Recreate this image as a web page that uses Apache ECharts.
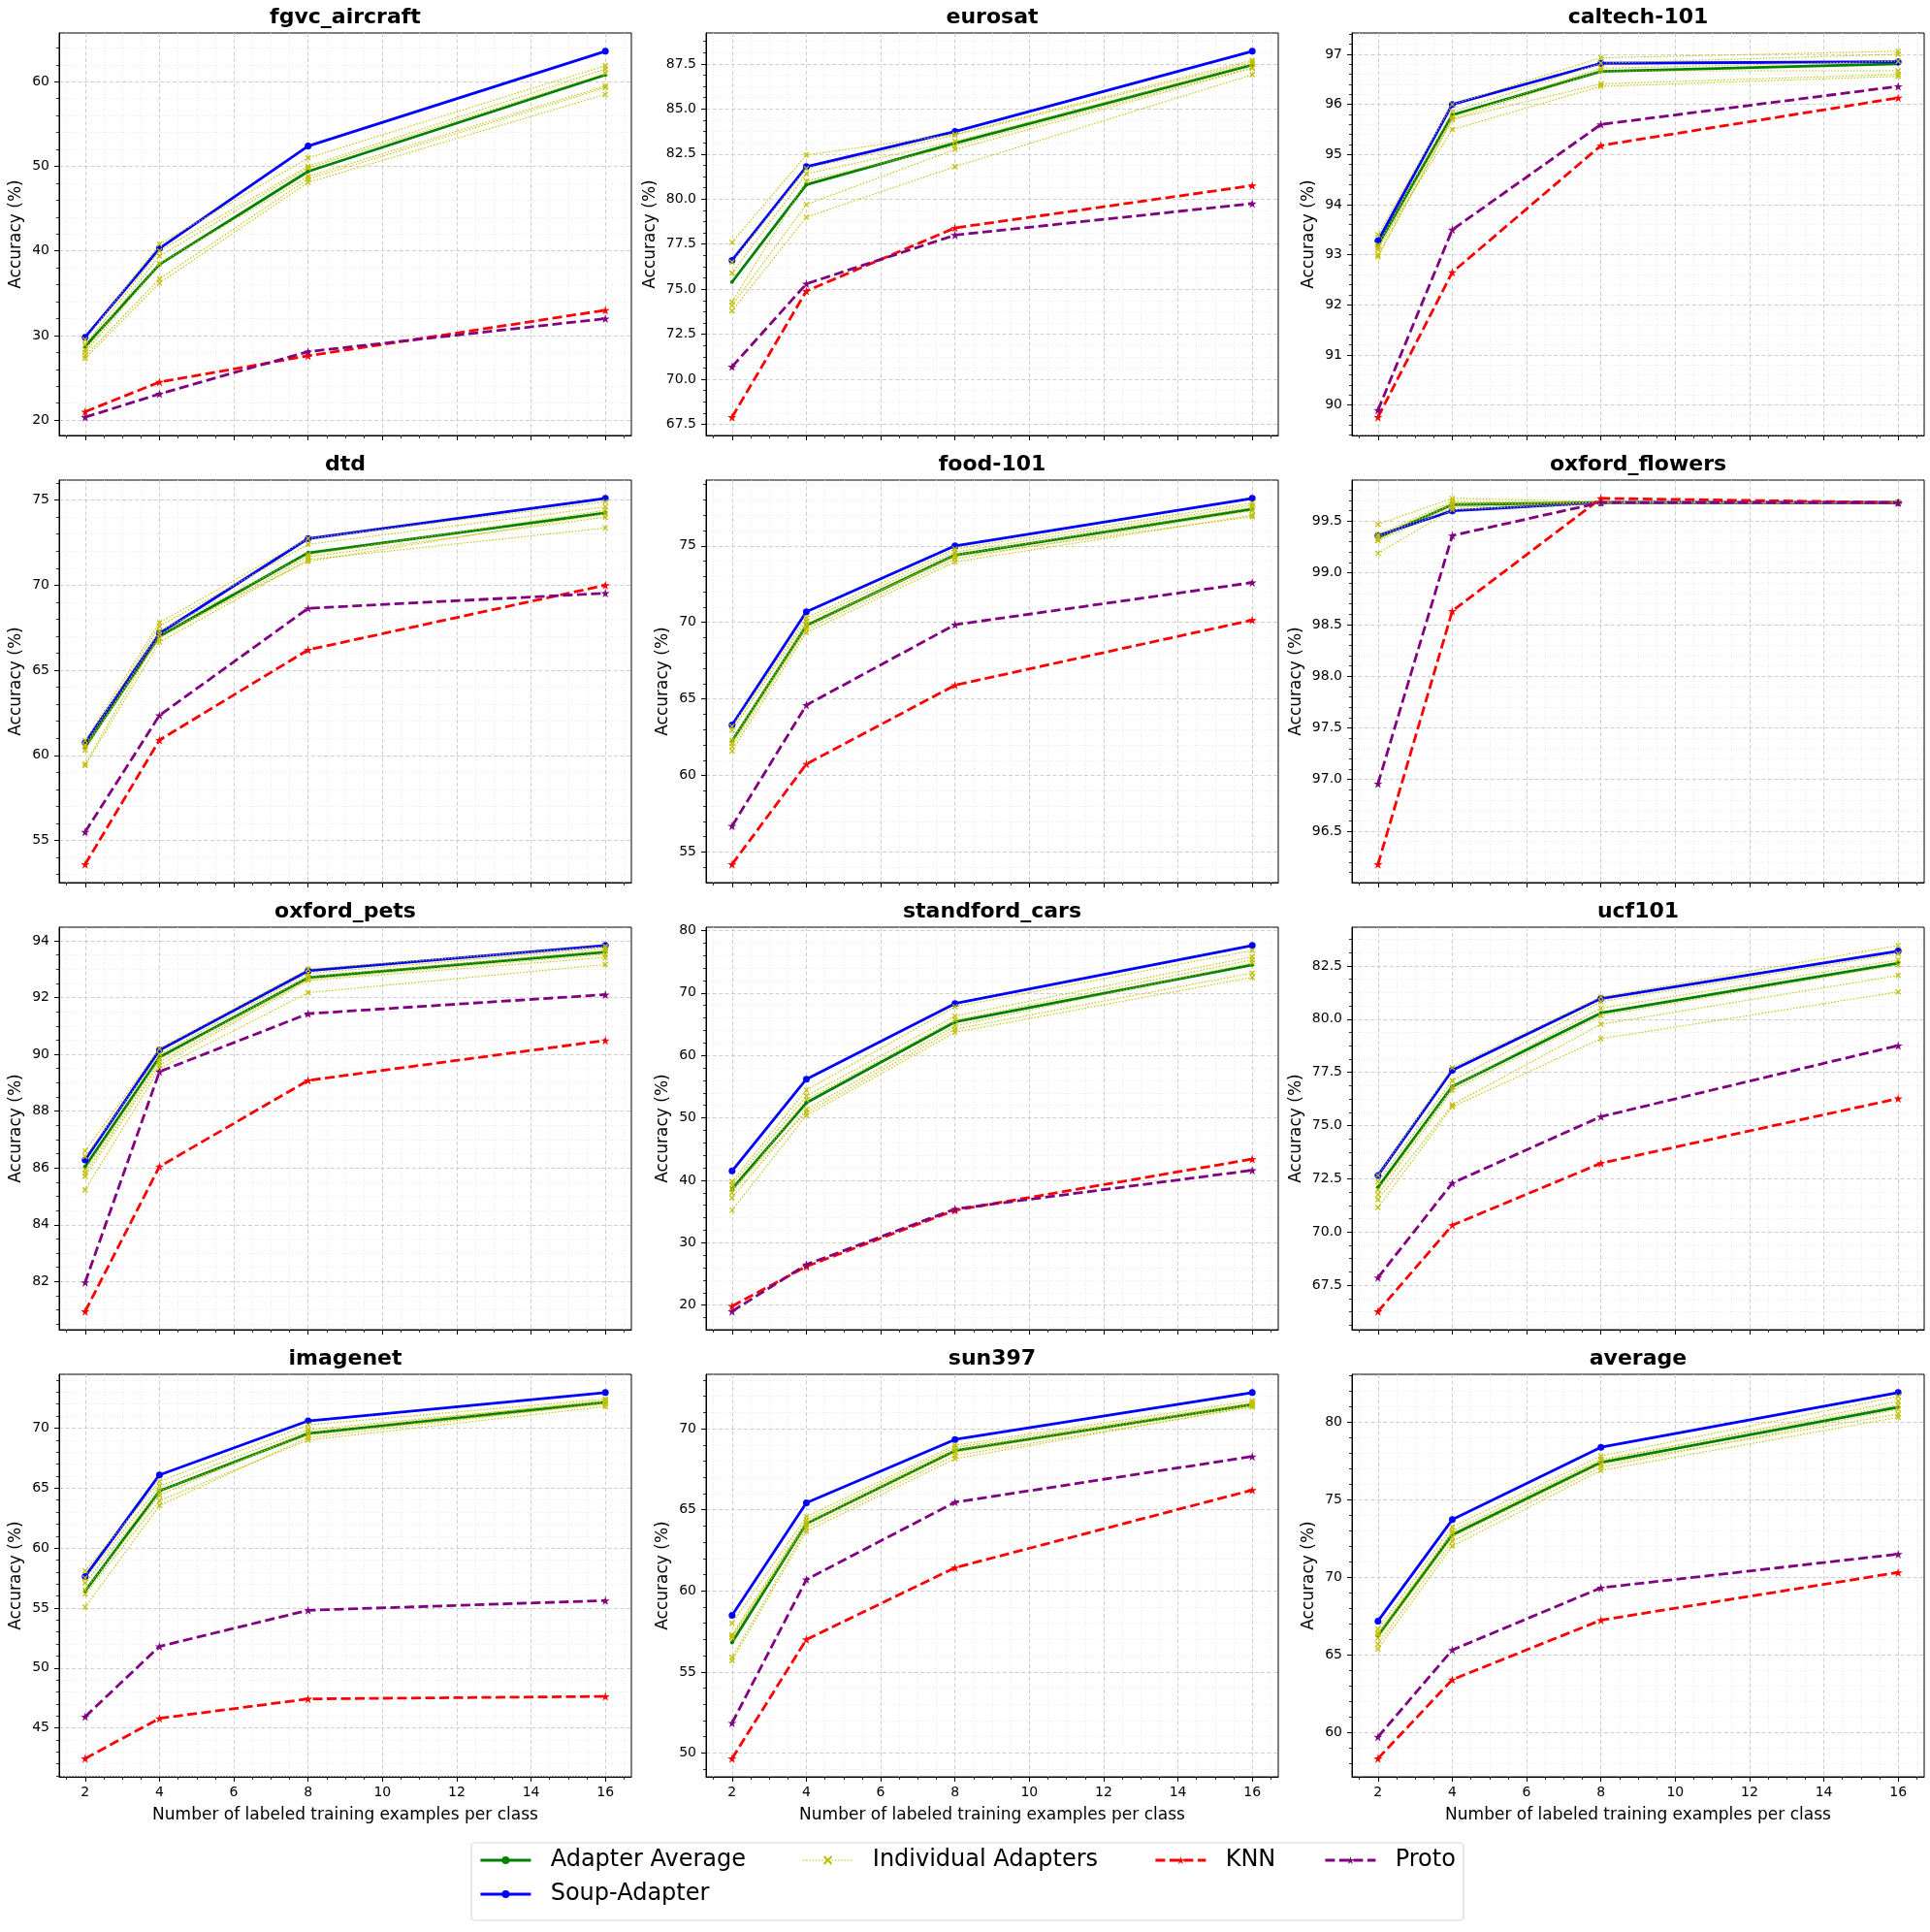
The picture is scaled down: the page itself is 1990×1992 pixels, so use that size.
<!DOCTYPE html>
<html>
<head>
<meta charset="utf-8">
<script src="https://cdn.jsdelivr.net/npm/echarts@6/dist/echarts.min.js"></script>
<style>html,body{margin:0;padding:0;background:#fff}#c{width:1990px;height:1992px}</style>
</head>
<body>
<div id="c"></div>
<script>
// ---------------- data ----------------
const shots = [2, 4, 8, 16];
const xTicks = [2, 4, 6, 8, 10, 12, 14, 16];
const datasets = ['fgvc_aircraft', 'eurosat', 'caltech-101', 'dtd', 'food-101', 'oxford_flowers',
  'oxford_pets', 'standford_cars', 'ucf101', 'imagenet', 'sun397', 'average'];

const soupAdapter = [
  [29.8, 40.3, 52.4, 63.6],
  [76.6, 81.8, 83.75, 88.2],
  [93.28, 96.0, 96.82, 96.85],
  [60.75, 67.17, 72.74, 75.1],
  [63.3, 70.7, 75.0, 78.1],
  [99.36, 99.6, 99.68, 99.68],
  [86.28, 90.15, 92.94, 93.83],
  [41.5, 56.2, 68.3, 77.6],
  [72.66, 77.6, 80.97, 83.2],
  [57.63, 66.1, 70.6, 72.96],
  [58.49, 65.43, 69.34, 72.23],
  [67.19, 73.72, 78.38, 81.9]
];
const adapterAverage = [
  [28.7, 38.4, 49.4, 60.8],
  [75.4, 80.8, 83.1, 87.45],
  [93.2, 95.79, 96.66, 96.81],
  [60.5, 67.0, 71.9, 74.25],
  [62.25, 69.8, 74.4, 77.4],
  [99.34, 99.66, 99.68, 99.68],
  [86.05, 89.9, 92.7, 93.6],
  [38.6, 52.4, 65.35, 74.5],
  [72.1, 76.84, 80.29, 82.63],
  [56.42, 64.76, 69.54, 72.15],
  [56.82, 64.14, 68.65, 71.49],
  [66.26, 72.75, 77.41, 80.97]
];
const knn = [
  [21.0, 24.5, 27.6, 33.0],
  [67.9, 74.9, 78.4, 80.75],
  [89.76, 92.65, 95.18, 96.13],
  [53.6, 60.9, 66.2, 70.0],
  [54.2, 60.75, 65.9, 70.15],
  [96.18, 98.63, 99.72, 99.68],
  [80.95, 86.05, 89.08, 90.49],
  [19.85, 26.2, 35.2, 43.4],
  [66.27, 70.32, 73.23, 76.27],
  [42.45, 45.8, 47.42, 47.63],
  [49.66, 57.0, 61.43, 66.22],
  [58.34, 63.42, 67.25, 70.32]
];
const proto = [
  [20.35, 23.1, 28.1, 32.0],
  [70.7, 75.3, 78.0, 79.75],
  [89.9, 93.5, 95.6, 96.36],
  [55.5, 62.35, 68.64, 69.53],
  [56.7, 64.6, 69.85, 72.6],
  [96.96, 99.36, 99.68, 99.68],
  [81.97, 89.39, 91.43, 92.1],
  [19.0, 26.5, 35.4, 41.6],
  [67.86, 72.3, 75.42, 78.76],
  [45.94, 51.8, 54.81, 55.62],
  [51.85, 60.7, 65.47, 68.29],
  [59.73, 65.33, 69.33, 71.5]
];
const individualAdapters = [
  [[29.5, 40.8, 51.0, 61.9], [28.9, 40.0, 50.0, 61.5], [28.3, 39.4, 49.8, 61.0], [28.0, 38.5, 48.8, 59.5], [27.6, 36.7, 48.5, 59.3], [27.3, 36.2, 48.1, 58.5]],
  [[77.6, 82.45, 83.6, 87.7], [76.5, 81.7, 83.55, 87.6], [75.9, 81.4, 83.2, 87.5], [74.3, 81.0, 82.95, 87.3], [74.1, 79.7, 82.75, 87.25], [73.8, 79.0, 81.8, 86.9]],
  [[93.4, 96.0, 96.93, 97.06], [93.2, 95.85, 96.82, 97.0], [93.1, 95.75, 96.72, 96.86], [93.0, 95.7, 96.67, 96.67], [92.96, 95.7, 96.41, 96.6], [93.15, 95.5, 96.36, 96.56]],
  [[60.87, 67.8, 72.74, 74.9], [60.6, 67.6, 72.4, 74.6], [60.3, 67.3, 71.8, 74.4], [60.5, 66.9, 71.66, 74.0], [59.5, 67.1, 71.4, 74.2], [59.4, 66.66, 71.5, 73.36]],
  [[63.2, 70.3, 74.8, 77.8], [62.95, 70.1, 74.6, 77.65], [62.1, 69.75, 74.4, 77.5], [61.9, 69.55, 74.15, 77.3], [61.6, 69.35, 73.95, 77.0], [62.3, 69.9, 74.3, 76.9]],
  [[99.47, 99.72, 99.69, 99.68], [99.37, 99.69, 99.68, 99.68], [99.33, 99.66, 99.68, 99.68], [99.31, 99.63, 99.68, 99.68], [99.19, 99.61, 99.67, 99.68], [99.35, 99.67, 99.68, 99.68]],
  [[86.6, 90.2, 93.0, 93.8], [86.4, 90.0, 92.85, 93.73], [85.94, 89.84, 92.73, 93.64], [85.82, 89.73, 92.64, 93.52], [85.7, 89.62, 92.6, 93.41], [85.23, 89.5, 92.17, 93.16]],
  [[39.8, 54.45, 67.8, 76.8], [39.3, 53.5, 66.3, 75.8], [38.0, 52.9, 65.65, 75.3], [37.2, 51.35, 64.7, 74.8], [38.6, 50.85, 64.2, 73.2], [35.2, 50.4, 63.7, 72.5]],
  [[72.66, 77.72, 81.04, 83.46], [72.36, 77.11, 80.82, 83.08], [71.98, 76.81, 80.51, 82.78], [71.75, 76.66, 80.17, 82.55], [71.53, 75.98, 79.76, 82.05], [71.15, 75.88, 79.08, 81.28]],
  [[58.1, 65.56, 70.27, 72.42], [57.5, 65.16, 69.87, 72.23], [57.1, 64.76, 69.46, 72.02], [56.16, 63.95, 69.0, 71.8], [55.08, 63.55, 69.2, 72.1], [56.5, 64.4, 69.7, 72.3]],
  [[58.0, 64.57, 68.99, 71.73], [57.3, 64.37, 68.85, 71.6], [57.1, 64.08, 68.55, 71.47], [55.9, 63.88, 68.35, 71.33], [55.7, 63.68, 68.15, 71.4], [57.2, 64.2, 68.7, 71.55]],
  [[66.67, 73.26, 77.82, 81.66], [66.42, 72.85, 77.51, 81.35], [65.7, 72.33, 77.1, 80.83], [65.39, 72.02, 76.89, 80.31], [66.1, 72.6, 77.3, 80.52], [66.3, 73.0, 77.6, 81.1]]
];
const yMajorStep = [10, 2.5, 1, 5, 5, 0.5, 2, 10, 2.5, 5, 5, 5];
const yMinorStep = [2, 0.625, 0.2, 1, 1, 0.1, 0.5, 2, 0.625, 1, 1, 1];
const xMinorStep = 0.5;
const yName = 'Accuracy (%)';
const xName = 'Number of labeled training examples per class';

// ---------------- layout ----------------
const FONT = 'DejaVu Sans';
const gridLeft = [61, 728, 1394], gridTop = [34, 495, 956, 1417], GW = 590, GH = 415;
const STAR = 'path://M50,0L61.2,34.5L97.6,34.5L68.2,55.9L79.4,90.5L50,69.1L20.6,90.5L31.8,55.9L2.4,34.5L38.8,34.5Z';
const XMARK = 'path://M0,0L10,10M10,0L0,10';
const r6 = v => Math.round(v * 1e6) / 1e6;

function ticksBetween(lo, hi, step) {
  const out = [];
  for (let k = Math.ceil(lo / step - 1e-9); k * step <= hi + 1e-9; k++) out.push(r6(k * step));
  return out;
}
const xPad = (shots[shots.length - 1] - shots[0]) * 0.05;
const xMin = shots[0] - xPad, xMax = shots[shots.length - 1] + xPad;
const xMinorTicks = ticksBetween(xMin, xMax, xMinorStep).filter(v => !xTicks.some(t => Math.abs(t - v) < 1e-6));

const grids = [], xAxes = [], yAxes = [], series = [], graphics = [];
const majorGrid = {color: '#c8c8c8', type: [4, 2.5], width: 0.9};
const minorGrid = {color: '#e2e2e2', type: [1, 2], width: 0.8};

datasets.forEach((name, i) => {
  const r = Math.floor(i / 3), c = i % 3;
  const all = [].concat(soupAdapter[i], adapterAverage[i], knn[i], proto[i], ...individualAdapters[i]);
  const lo = Math.min(...all), hi = Math.max(...all), pad = (hi - lo) * 0.05;
  const yMin = lo - pad, yMax = hi + pad;
  const maj = ticksBetween(yMin, yMax, yMajorStep[i]);
  const minr = ticksBetween(yMin, yMax, yMinorStep[i]).filter(v => !maj.some(t => Math.abs(t - v) < 1e-6));
  const dec = (yMajorStep[i] % 1 === 0) ? 0 : 1;
  const bottom = r === 3;

  grids.push({left: gridLeft[c], top: gridTop[r], width: GW, height: GH, show: true,
    borderColor: '#000', borderWidth: 1, backgroundColor: 'transparent', containLabel: false, outerBoundsMode: 'none'});

  const xi = xAxes.length, yi = yAxes.length;
  xAxes.push({type: 'value', gridIndex: i, min: xMin, max: xMax, position: 'bottom',
    axisLine: {show: true, onZero: false, lineStyle: {color: '#000', width: 1}},
    axisTick: {show: true, length: 5, customValues: xTicks, lineStyle: {color: '#000', width: 1}},
    axisLabel: {show: bottom, customValues: xTicks, color: '#000', fontSize: 14, fontFamily: FONT, margin: 9},
    splitLine: {show: true, lineStyle: majorGrid},
    name: bottom ? xName : '', nameLocation: 'middle', nameGap: 31,
    nameTextStyle: {fontFamily: FONT, fontSize: 17, color: '#000'}});
  xAxes.push({type: 'value', gridIndex: i, min: xMin, max: xMax, position: 'bottom',
    axisLine: {show: false, onZero: false},
    axisTick: {show: true, length: 3, customValues: xMinorTicks, lineStyle: {color: '#000', width: 0.8}},
    axisLabel: {show: false, customValues: xMinorTicks},
    splitLine: {show: true, lineStyle: minorGrid}});
  yAxes.push({type: 'value', gridIndex: i, min: yMin, max: yMax, position: 'left',
    axisLine: {show: true, onZero: false, lineStyle: {color: '#000', width: 1}},
    axisTick: {show: true, length: 5, customValues: maj, lineStyle: {color: '#000', width: 1}},
    axisLabel: {show: true, customValues: maj, formatter: v => Number(v).toFixed(dec),
      color: '#000', fontSize: 14, fontFamily: FONT, margin: 10},
    splitLine: {show: true, lineStyle: majorGrid},
    name: yName, nameLocation: 'middle', nameRotate: 90, nameGap: dec ? 49 : 36,
    nameTextStyle: {fontFamily: FONT, fontSize: 17, color: '#000'}});
  yAxes.push({type: 'value', gridIndex: i, min: yMin, max: yMax, position: 'left',
    axisLine: {show: false, onZero: false},
    axisTick: {show: true, length: 3, customValues: minr, lineStyle: {color: '#000', width: 0.8}},
    axisLabel: {show: false, customValues: minr},
    splitLine: {show: true, lineStyle: minorGrid}});

  const pts = arr => shots.map((x, j) => [x, arr[j]]);
  const base = {type: 'line', xAxisIndex: xi, yAxisIndex: yi, silent: true, animation: false};
  series.push(Object.assign({}, base, {name: 'Adapter Average', data: pts(adapterAverage[i]),
    symbol: 'circle', symbolSize: 4, lineStyle: {color: 'green', width: 2.8}, itemStyle: {color: 'green'}}));
  series.push(Object.assign({}, base, {name: 'Soup-Adapter', data: pts(soupAdapter[i]),
    symbol: 'circle', symbolSize: 7, lineStyle: {color: 'blue', width: 2.8}, itemStyle: {color: 'blue'}}));
  individualAdapters[i].forEach(arr => {
    series.push(Object.assign({}, base, {name: 'Individual Adapters', data: pts(arr),
      symbol: XMARK, symbolSize: 5, lineStyle: {color: '#bfbf00', width: 1.1, type: [1.5, 1.8]},
      itemStyle: {color: '#bfbf00', borderColor: '#bfbf00', borderWidth: 1.3}}));
  });
  series.push(Object.assign({}, base, {name: 'KNN', data: pts(knn[i]),
    symbol: STAR, symbolSize: 9, lineStyle: {color: 'red', width: 2.8, type: [10, 4.5]}, itemStyle: {color: 'red'}}));
  series.push(Object.assign({}, base, {name: 'Proto', data: pts(proto[i]),
    symbol: STAR, symbolSize: 9, lineStyle: {color: 'purple', width: 2.8, type: [10, 4.5]}, itemStyle: {color: 'purple'}}));

  graphics.push({type: 'text', x: gridLeft[c] + GW / 2, y: gridTop[r] - 16, silent: true,
    style: {text: name, fill: '#000', font: 'bold 22px "DejaVu Sans"', textAlign: 'center', textVerticalAlign: 'middle'}});
});

// legend frame
graphics.push({type: 'rect', shape: {x: 486, y: 1900, width: 1023, height: 80, r: 4}, silent: true, z: -1,
  style: {fill: '#fff', stroke: '#d6d6d6', lineWidth: 1.2}});

const legendItems = [
  {name: 'Adapter Average', left: 494, top: 1906, lw: 2.8},
  {name: 'Soup-Adapter', left: 494, top: 1941, lw: 2.8},
  {name: 'Individual Adapters', left: 827, top: 1906, lw: 1.1},
  {name: 'KNN', left: 1190, top: 1906, lw: 2.8},
  {name: 'Proto', left: 1365, top: 1906, lw: 2.8}
];
const legends = legendItems.map(l => ({data: [l.name], left: l.left, top: l.top, padding: 0,
  itemWidth: 52, itemHeight: 10, selectedMode: false, formatter: n => '  ' + n,
  lineStyle: {width: l.lw},
  textStyle: {fontFamily: FONT, fontSize: 24, color: '#000'}}));

const chart = echarts.init(document.getElementById('c'), null, {renderer: 'canvas', width: 1990, height: 1992});
chart.setOption({
  animation: false,
  backgroundColor: '#fff',
  textStyle: {fontFamily: FONT},
  grid: grids, xAxis: xAxes, yAxis: yAxes, series: series,
  legend: legends, graphic: graphics
});
</script>
</body>
</html>
